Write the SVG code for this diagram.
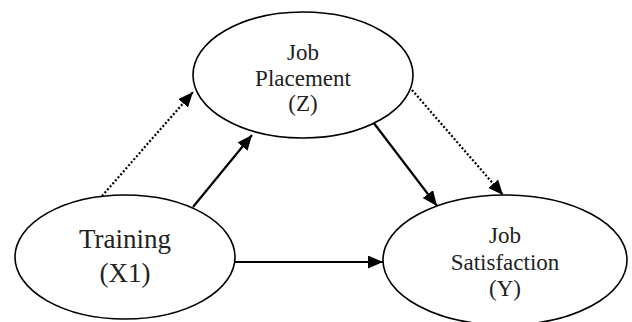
<svg xmlns="http://www.w3.org/2000/svg" width="632" height="322" viewBox="0 0 632 322">
<style>
.node ellipse{fill:#fff;stroke:#000;stroke-width:1.6}
.t{font-family:"Liberation Serif","DejaVu Serif",serif;fill:#222;text-anchor:middle}
.s{stroke:#000;stroke-width:2.2;fill:none}
.d{stroke:#000;stroke-width:2.2;fill:none;stroke-dasharray:2 2}
</style>
<defs>
<marker id="ah" markerUnits="userSpaceOnUse" markerWidth="16" markerHeight="14" refX="15" refY="6.5" orient="auto">
<path d="M0,0 L15,6.5 L0,13 z" fill="#000"/>
</marker>
</defs>
<rect width="632" height="322" fill="#fff"/>
<g id="connectors">
<line class="d" x1="102" y1="196" x2="193" y2="92" marker-end="url(#ah)"/>
<line class="s" x1="193" y1="207" x2="252" y2="135" marker-end="url(#ah)"/>
<line class="s" x1="370" y1="118" x2="437" y2="206" marker-end="url(#ah)"/>
<line class="d" x1="412" y1="90" x2="503" y2="195" marker-end="url(#ah)"/>
<line class="s" x1="235" y1="262" x2="383" y2="262" marker-end="url(#ah)"/>
</g>
<g id="placement" class="node">
<ellipse cx="303" cy="75" rx="110" ry="63"/>
<text class="t" font-size="23" x="303" y="60">Job</text>
<text class="t" font-size="23" x="303" y="86">Placement</text>
<text class="t" font-size="23" x="303" y="111">(Z)</text>
</g>
<g id="training" class="node">
<ellipse cx="125" cy="257" rx="110" ry="62"/>
<text class="t" font-size="27" x="125" y="248">Training</text>
<text class="t" font-size="27" x="125" y="282">(X1)</text>
</g>
<g id="satisfaction" class="node">
<ellipse cx="505" cy="260" rx="122" ry="65"/>
<text class="t" font-size="23" x="505" y="243">Job</text>
<text class="t" font-size="23" x="505" y="270">Satisfaction</text>
<text class="t" font-size="23" x="505" y="296">(Y)</text>
</g>
</svg>
